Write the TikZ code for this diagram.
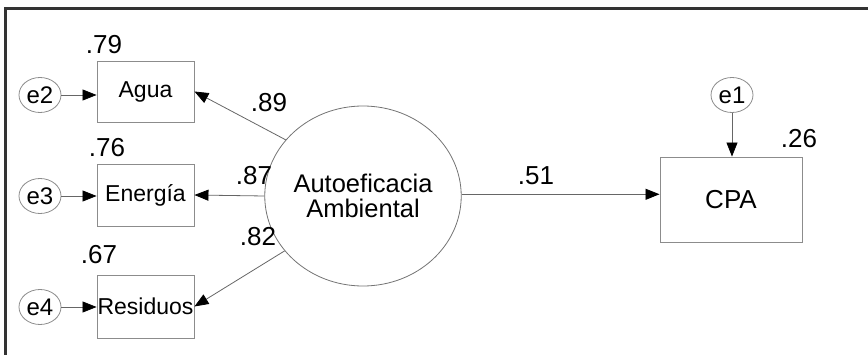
\documentclass[tikz,border=0pt]{standalone}
\usepackage{fontspec}
\setmainfont{Liberation Sans}
\usetikzlibrary{shapes.geometric,arrows.meta}
\begin{document}
\begin{tikzpicture}[x=1pt,y=-1pt,
  obs/.style={draw=black!45,line width=0.9pt,rectangle,minimum width=97pt,inner sep=0pt,font=\fontsize{23}{24}\selectfont},
  err/.style={draw=black!45,line width=0.8pt,ellipse,minimum width=42pt,minimum height=35pt,inner sep=0pt,font=\fontsize{24}{24}\selectfont},
  lat/.style={draw=black!55,line width=0.8pt,ellipse,minimum width=156pt,minimum height=180pt,inner sep=0pt,align=center,font=\fontsize{25.5}{25.5}\selectfont},
  path/.style={draw=black!60,line width=0.8pt,-{Triangle[length=14pt,width=11pt,color=black]}},
  coef/.style={font=\fontsize{26}{26}\selectfont,inner sep=0pt}]
\useasboundingbox (0,0) rectangle (868,355);
\draw[line width=3pt,color=black!80] (5,355) -- (5,9) -- (868,9);
% observed
\node[obs,minimum height=61pt] (agua) at (145.5,91.5) {Agua};
\node[obs,minimum height=62pt] (energia) at (145.5,195) {Energía};
\node[obs,minimum height=63pt] (residuos) at (145.5,306.5) {Residuos};
\node[obs,minimum width=142pt,minimum height=85pt,font=\fontsize{26}{26}\selectfont] (cpa) at (731,199.5) {CPA};
% latent
\node[lat] (auto) at (363,196) {Autoeficacia\\Ambiental};
% errors
\node[err] (e2) at (40,95) {e2};
\node[err] (e3) at (40,196) {e3};
\node[err] (e4) at (40,307) {e4};
\node[err] (e1) at (732,95) {e1};
% paths
\draw[path] (e2) -- (agua.west |- e2);
\draw[path] (e3) -- (energia.west |- e3);
\draw[path] (e4) -- (residuos.west |- e4);
\draw[path] (e1) -- (cpa.north -| e1);
\draw[path] (auto.144) -- (agua.east);
\draw[path] (auto.180) -- (energia.east);
\draw[path] (auto.215) -- (residuos.east);
\draw[path] (auto.1) -- (cpa.west |- auto.1);
% coefficients
\node[coef] (r79) at (104,45) {.79};
\node[coef] (r76) at (107,148) {.76};
\node[coef] (r67) at (99,255) {.67};
\node[coef] (r26) at (799,139) {.26};
\node[coef] (c89) at (269,103) {.89};
\node[coef] (c87) at (254,176) {.87};
\node[coef] (c82) at (258,237) {.82};
\node[coef] (c51) at (536,176) {.51};
\end{tikzpicture}
\end{document}
